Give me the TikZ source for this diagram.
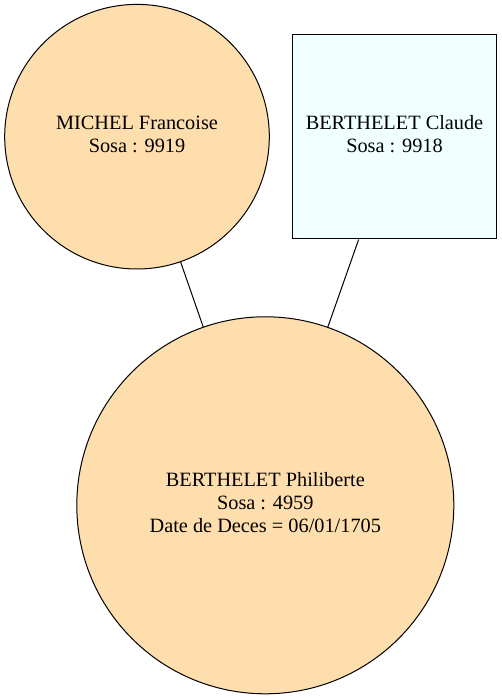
\documentclass[tikz,border=0pt]{standalone}
\usepackage{fontspec}
\setmainfont{Liberation Serif}
\begin{document}
\begin{tikzpicture}[x=1pt,y=1pt,
  person/.style={draw=black,line width=1pt,fill={rgb,255:red,255;green,222;blue,173},circle,inner sep=0pt},
  sqbox/.style={draw=black,line width=1pt,fill={rgb,255:red,240;green,255;blue,255},rectangle,inner sep=0pt},
  txt/.style={align=center,inner sep=0pt,font=\fontsize{20.3}{23}\selectfont},
  link/.style={draw=black,line width=1pt}]
\useasboundingbox (0,0) rectangle (502,700);
\node[person,minimum size=264.6pt] (mf) at (137,563.3) {};
\node[txt] (mft) at (137,566) {MICHEL Francoise\\Sosa : 9919};
\node[sqbox,minimum width=204pt,minimum height=204pt] (bc) at (394.5,563) {};
\node[txt] (bct) at (394.5,566) {BERTHELET Claude\\Sosa : 9918};
\node[person,minimum size=377pt] (bp) at (265.3,194.7) {};
\node[txt] (bpt) at (265.3,197) {BERTHELET Philiberte\\Sosa : 4959\\Date de Deces = 06/01/1705};
\draw[link] (mf) -- (bp);
\draw[link] (bc) -- (bp);
\end{tikzpicture}
\end{document}
